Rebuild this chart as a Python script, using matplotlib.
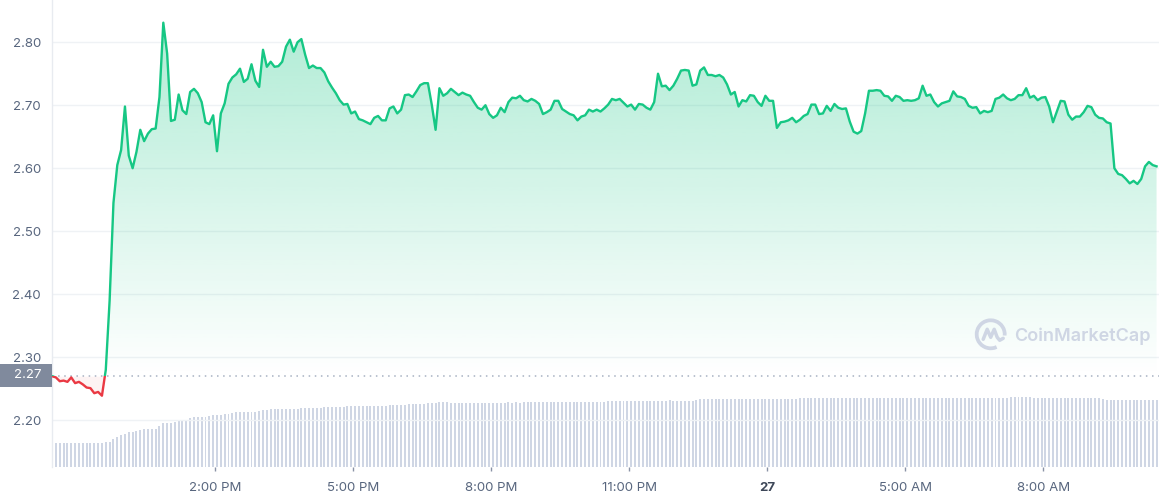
import numpy as np
import matplotlib
matplotlib.use("Agg")
import matplotlib.pyplot as plt
from matplotlib.patches import Rectangle, Arc
from matplotlib.lines import Line2D
from matplotlib.path import Path
from matplotlib.colors import to_rgb
from matplotlib.transforms import IdentityTransform

# ---------------- data ----------------
price = [
    2.270, 2.268, 2.262, 2.263, 2.261, 2.268, 2.259, 2.261, 2.257, 2.252,
    2.251, 2.243, 2.245, 2.239, 2.280, 2.390, 2.545,
    2.605, 2.629, 2.698, 2.620, 2.600, 2.626, 2.661, 2.643, 2.655, 2.662,
    2.663, 2.713, 2.831, 2.782, 2.675, 2.677, 2.717, 2.692, 2.686, 2.721,
    2.726, 2.719, 2.705, 2.673, 2.670, 2.684, 2.627, 2.687, 2.703, 2.734,
    2.744, 2.749, 2.758, 2.737, 2.742, 2.765, 2.739, 2.729, 2.788, 2.761,
    2.769, 2.761, 2.762, 2.769, 2.793, 2.804, 2.785, 2.800,
    2.805, 2.780, 2.759, 2.763, 2.759, 2.759, 2.752, 2.738, 2.728, 2.719,
    2.708, 2.701, 2.702, 2.687, 2.690, 2.678, 2.676, 2.673, 2.670, 2.680,
    2.683, 2.676, 2.676, 2.695, 2.698, 2.687, 2.693, 2.716, 2.717, 2.713,
    2.722, 2.732, 2.735, 2.735, 2.701, 2.661, 2.727, 2.715, 2.719, 2.726,
    2.721, 2.716, 2.720, 2.717, 2.715, 2.705, 2.696, 2.693, 2.700, 2.686,
    2.680, 2.684, 2.696, 2.689, 2.705,
    2.712, 2.711, 2.715, 2.708, 2.706, 2.710, 2.707, 2.702, 2.686, 2.689,
    2.693, 2.707, 2.707, 2.694, 2.690, 2.686, 2.684, 2.676, 2.682, 2.684,
    2.693, 2.690, 2.693, 2.690, 2.695, 2.701, 2.710, 2.708, 2.710, 2.704,
    2.698, 2.701, 2.693, 2.702, 2.701, 2.696, 2.693, 2.705, 2.750, 2.730,
    2.731, 2.724, 2.731, 2.742, 2.755, 2.756, 2.755, 2.731, 2.733, 2.755,
    2.760, 2.748, 2.748, 2.746, 2.748, 2.744,
    2.733, 2.717, 2.721, 2.698, 2.708, 2.706, 2.716, 2.715, 2.705, 2.699,
    2.715, 2.707, 2.707, 2.664, 2.673, 2.674, 2.676, 2.680, 2.673, 2.677,
    2.683, 2.686, 2.701, 2.701, 2.686, 2.687, 2.699, 2.691, 2.702, 2.696,
    2.694, 2.695, 2.674, 2.658, 2.655, 2.659, 2.687, 2.723, 2.723, 2.724,
    2.723, 2.715, 2.714, 2.707, 2.715, 2.713, 2.707, 2.708, 2.707, 2.708,
    2.711, 2.731, 2.715, 2.717, 2.705, 2.698,
    2.703, 2.705, 2.707, 2.722, 2.714, 2.713, 2.710, 2.699, 2.696, 2.697,
    2.687, 2.691, 2.689, 2.691, 2.710, 2.712, 2.717, 2.711, 2.708, 2.710,
    2.716, 2.716, 2.727, 2.712, 2.715, 2.708, 2.712, 2.713, 2.698, 2.673,
    2.690, 2.707, 2.706, 2.685, 2.677, 2.682, 2.682, 2.689, 2.699, 2.697,
    2.685, 2.680, 2.679, 2.673, 2.671, 2.600, 2.591, 2.589, 2.583, 2.576,
    2.580, 2.575, 2.583, 2.603, 2.610, 2.605, 2.603,
]

# 24h volume (relative units), one bar per 5-minute sample
volume = [
    24, 24, 24, 24, 24, 24, 24, 24, 24, 24, 24, 24, 24, 24, 25, 25,
    28, 30.5, 32, 33.5, 35, 35.5, 36.5, 37.5, 38, 38.5, 38.8, 38.8,
    41, 44, 44.6, 44.6, 45.3, 46.3, 47, 47.3,
    49.5, 50.6, 50.6, 50.6, 50.6,
    51.5, 52, 52, 52.8, 53.3, 53.6, 54,
    55, 55.3, 55.3, 55.3, 55.3, 55.3,
    56.3, 57, 57.3,
    58, 58, 58, 58, 58, 58, 58.3, 58.6,
    59.6, 59.6, 59.6, 59.6, 59.6, 59.6,
    60.6, 60.6, 60.6, 60.6, 60.6, 60.6,
    61.6, 61.6, 61.6, 61.6, 61.6, 61.6, 61.6, 61.6, 61.6, 61.6, 61.6,
    62.3, 62.3, 62.3, 62.3, 62.3,
    63.3, 63.3, 63.3, 63.3, 63.3,
    64.6, 64.6, 64.6, 65.6, 65.6, 65.6,
    64.6, 64.6, 64.6, 64.6, 64.6, 64.6, 64.6, 64.6, 64.6, 64.6,
    64.6, 64.6, 64.6, 64.6, 64.6,
    65.6, 64.6, 65.6, 64.6,
    65.6, 65.6, 65.6, 65.6, 65.6, 65.6, 65.6, 65.6, 65.6, 65.6, 65.6,
    65.6, 65.6, 65.6, 65.6, 65.6, 65.6, 65.6, 65.6, 65.6, 65.6, 65.6,
    66.6, 66.6, 66.6, 66.6, 66.6, 66.6, 66.6, 66.6, 66.6, 66.6, 66.6,
    66.6, 66.6, 66.6, 66.6, 66.6,
    67.6, 66.6, 66.6, 66.6, 66.6, 66.6, 66.6, 67.6,
    68, 68, 68, 68, 68, 68, 68, 68, 68, 68, 68, 68, 68,
    68, 68, 68, 68, 68, 68, 68, 68, 68, 68, 68, 68, 68,
    69, 69, 69, 69, 69, 69, 69, 69, 69, 69, 69,
    69, 69, 69, 69, 69, 69, 69, 69, 69, 69, 69,
    69, 69, 69, 69, 69, 69, 69, 69, 69, 69, 69,
    69, 69, 69, 69, 69, 69, 69, 69, 69, 69, 69,
    69, 69, 69, 69, 69, 69, 69, 69, 69, 69, 69,
    70.3, 70.3, 70.3, 70.3, 70.3, 70.3,
    69, 69, 69, 69, 69, 69, 69, 69, 69, 69, 69, 69, 69, 69, 69, 69, 69, 69,
    68.4,
    67.3, 67.3, 67.3, 67.3, 67.3, 67.3, 67.3, 67.3, 67.3, 67.3, 67.3,
    67.3, 67.3, 67.3,
]

start_hour = 10.46          # hours since midnight, Sep 26
step_hours = 5 / 60         # 5-minute samples
base_price = 2.27
tick_hours = [14, 17, 20, 23, 26, 29, 32]
tick_labels = ["2:00 PM", "5:00 PM", "8:00 PM", "11:00 PM", "27", "5:00 AM", "8:00 AM"]
ytick_values = [2.20, 2.30, 2.40, 2.50, 2.60, 2.70, 2.80]

# ---------------- style ----------------
plt.rcParams["font.family"] = ["Inter", "DejaVu Sans"]
GREEN = "#16c784"
RED = "#ea3943"
LABEL = "#58667e"
GRID = "#eff2f5"
BAR = "#cfd6e4"

W, H = 1161, 500
fig = plt.figure(figsize=(W / 100, H / 100), dpi=100)
rect = [52 / W, 1 - 467.3 / H, 1107 / W, 467.3 / H]
ax_vol = fig.add_axes(rect)
ax = fig.add_axes(rect)
ax.patch.set_visible(False)

t = start_hour + np.arange(len(price)) * step_hours
tv = start_hour + np.arange(len(volume)) * step_hours
p = np.array(price)
xlim = (10.458, 34.513)
ylim = (2.1254, 2.867)

# volume bars
ax_vol.bar(tv, volume, width=0.043, color=BAR, linewidth=0, align="center")
ax_vol.set_xlim(*xlim)
ax_vol.set_ylim(0, 467.3)
ax_vol.axis("off")

# grid
for v in ytick_values:
    ax.axhline(v, color=GRID, lw=1, zorder=0.5)
ax.axhline(base_price, color="#a7b1c2", lw=1.1, ls=(0, (1, 3)), zorder=0.6)

# gradient fill above baseline
poly = ax.fill_between(t, p, base_price, where=p >= base_price, interpolate=True,
                       facecolor="none", edgecolor="none")
clip = Path.make_compound_path(*poly.get_paths())
grad = np.zeros((256, 1, 4))
grad[..., :3] = to_rgb(GREEN)
grad[:, 0, 3] = np.linspace(0.0, 0.34, 256)
im = ax.imshow(grad, extent=[t[0], t[-1], base_price, 2.835], origin="lower",
               aspect="auto", zorder=1, interpolation="bilinear")
im.set_clip_path(clip, ax.transData)
ax.fill_between(t, p, base_price, where=p < base_price, interpolate=True,
                color=RED, alpha=0.06, linewidth=0, zorder=1)

# price line, green above and red below the opening price
lg, = ax.plot(t, p, color=GREEN, lw=1.7, zorder=3, solid_joinstyle="round")
lg.set_clip_path(Rectangle((0, base_price), 60, 5, transform=ax.transData))
lr, = ax.plot(t, p, color=RED, lw=1.7, zorder=3, solid_joinstyle="round")
lr.set_clip_path(Rectangle((0, 0), 60, base_price, transform=ax.transData))

ax.set_xlim(*xlim)
ax.set_ylim(*ylim)

# axes styling
for s in ["top", "right", "bottom"]:
    ax.spines[s].set_visible(False)
ax.spines["left"].set_color("#e8ebf0")
ax.spines["left"].set_linewidth(1)
ax.set_yticks(ytick_values)
ax.set_yticklabels([f"{v:.2f}" for v in ytick_values])
ax.tick_params(axis="y", length=0, pad=7.9, labelsize=9.5, labelcolor=LABEL)
ax.set_xticks(tick_hours)
ax.set_xticklabels(tick_labels)
ax.tick_params(axis="x", length=2.6, width=1, color="#8a93a6", pad=7.8,
               labelsize=9.5, labelcolor=LABEL, direction="out")
for lab in ax.get_xticklabels():
    if lab.get_text() == "27":
        lab.set_fontweight("bold")
        lab.set_color("#3d4758")

# current-open price badge on the y axis
ident = IdentityTransform()
fig.add_artist(Rectangle((0, H - 386.7), 52, 22.4, transform=ident,
                         facecolor="#808a9d", edgecolor="none"))
fig.text(28 / W, (H - 375.5) / H, "2.27", color="white", fontsize=9.5,
         ha="center", va="center")

# watermark
cx, cy = 990.7, H - 334.3
fig.add_artist(Arc((cx, cy), 28, 28, theta1=-5, theta2=295, transform=ident,
                   color=BAR, lw=2.7))
zx = [-7.5, -3.5, 0.0, 3.5, 6.5, 9.0, 12.5]
zy = [-5.0, 5.0, -3.0, 5.0, -3.0, -6.0, -4.0]
fig.add_artist(Line2D([cx + a for a in zx], [cy + b for b in zy], transform=ident,
                      color=BAR, lw=2.5, solid_joinstyle="round",
                      solid_capstyle="round"))
fig.text(1014 / W, (H - 336) / H, "CoinMarketCap", color=BAR, fontsize=13,
         fontweight="semibold", ha="left", va="center")

fig.savefig("out.png", dpi=100)
